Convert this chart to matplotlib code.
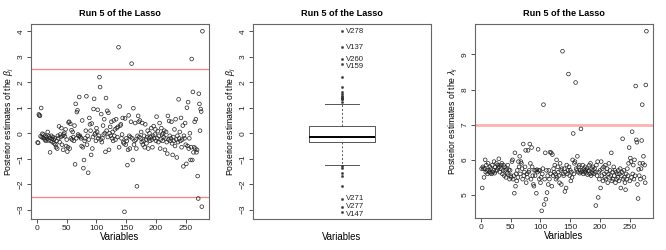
import numpy as np
import matplotlib
matplotlib.use("Agg")
import matplotlib.pyplot as plt

plt.rcParams['font.family'] = ['Liberation Sans', 'DejaVu Sans']
plt.rcParams['mathtext.fontset'] = 'custom'
plt.rcParams['mathtext.rm'] = 'Liberation Sans'
plt.rcParams['mathtext.it'] = 'Liberation Sans:italic'

title = "Run 5 of the Lasso"
xlabel = "Variables"
ylabel_beta = r"Posterior estimates of the $\beta_j$"
ylabel_lambda = r"Posterior estimates of the $\lambda_j$"

beta = [
    -0.36, -0.38, 0.74, 0.70, 0.68, -0.12, 0.99, -0.15, -0.02, -0.18,
    -0.05, -0.20, -0.25, -0.10, -0.30, -0.15, -0.22, 0.05, -0.28, -0.12,
    -0.18, -0.75, -0.30, -0.10, -0.22, -0.35, -0.15, -0.25, -0.40, -0.20,
    -0.45, -0.55, -0.30, -0.60, -0.10, -0.20, 0.27, -0.35, -0.05, -0.15,
    0.20, -0.45, -0.10, -0.65, -0.05, 0.02, -0.12, 0.15, -0.50, -0.25,
    -0.72, -0.55, 0.42, 0.45, -0.60, 0.37, -0.20, 0.12, -0.25, 0.05,
    -0.15, -0.30, 0.30, -1.22, 1.15, -0.20, 0.83, 0.90, -0.05, -0.10,
    1.42, -0.10, -0.15, -0.20, -0.50, 0.50, -0.55, -1.37, -1.05, -0.30,
    -0.20, 0.10, 1.45, -0.45, -0.10, -1.55, -0.25, 0.60, 0.35, 0.10,
    -0.85, 0.38, -0.60, -0.15, 0.95, 1.35, -0.05, 0.00, -0.30, 0.20,
    0.05, 0.92, -0.20, -0.10, 2.20, 1.81, -0.25, 0.75, -0.35, -0.20,
    0.30, -0.05, 0.55, 0.00, -0.73, 1.38, 0.10, 0.88, -0.15, 0.80,
    -0.65, 0.00, 0.25, -0.10, 0.45, -0.20, 0.05, -0.30, 0.50, -0.10,
    0.15, -0.25, 0.55, 0.20, -0.15, 0.25, 3.37, -0.55, 1.05, 0.30,
    0.35, -0.20, -0.05, 0.60, -0.35, -0.40, -3.08, 0.58, -0.45, -0.20,
    -0.30, -1.25, -0.65, 0.70, -0.10, -0.60, -0.15, 0.45, 2.73, -0.20,
    -1.05, 0.98, -0.45, -0.30, 0.40, -0.25, -0.60, -2.08, -0.10, 0.68,
    0.45, -0.15, 0.50, -0.20, 0.05, -0.35, 0.40, -0.45, -0.30, -0.10,
    -0.55, 0.35, -0.25, -0.40, -0.15, 0.10, -0.60, -0.20, 0.00, -0.30,
    -0.15, 0.20, -0.25, -0.55, -0.10, 0.28, -0.20, -0.05, 0.15, -0.30,
    0.65, -0.20, 0.08, -0.35, -0.10, 0.40, -0.60, -0.25, 0.20, -0.05,
    -0.30, 0.00, -0.15, 0.10, -0.65, -0.20, 0.05, -0.35, -0.80, 0.68,
    -0.25, 0.48, -0.10, -0.30, -0.20, 0.45, -0.40, -0.85, -0.15, -0.30,
    0.15, -0.50, 0.55, -0.25, -0.95, -0.10, -0.35, 1.33, -0.20, 0.05,
    -0.30, 0.60, -0.55, -0.25, 0.30, -1.30, -0.10, -0.20, 0.40, -0.45,
    -1.20, 1.00, -0.50, 1.22, -0.60, -0.20, 0.00, -1.05, -0.55, 2.91,
    -1.05, 1.62, -0.75, -0.55, 0.45, -0.60, 0.55, -0.75, -0.65, -1.68,
    -2.56, 1.55, 1.15, 0.10, 0.95, 0.85, -2.88, 4.00,
]

lam = [
    5.75, 5.20, 5.80, 5.75, 5.50, 5.75, 6.00, 5.65, 5.85, 5.70,
    5.60, 5.90, 5.70, 5.65, 5.80, 5.62, 5.75, 5.60, 5.85, 5.65,
    5.70, 5.95, 5.62, 5.80, 5.68, 5.90, 5.72, 5.85, 5.78, 6.03,
    5.80, 5.65, 5.85, 5.75, 5.90, 5.60, 5.70, 5.85, 5.55, 5.80,
    5.70, 5.50, 5.75, 5.62, 5.85, 5.58, 5.72, 5.45, 5.70, 5.55,
    5.50, 5.95, 6.00, 5.45, 5.55, 5.05, 6.20, 5.25, 5.60, 5.40,
    5.70, 5.50, 5.95, 5.80, 6.10, 5.60, 5.95, 5.90, 5.75, 5.45,
    6.45, 5.55, 5.65, 5.80, 6.27, 5.35, 5.60, 5.50, 6.27, 5.65,
    5.70, 6.45, 5.90, 5.45, 6.35, 5.80, 5.55, 5.30, 5.25, 5.70,
    5.55, 5.70, 5.05, 5.72, 5.65, 6.30, 5.70, 5.45, 5.70, 5.35,
    5.50, 4.55, 5.60, 5.75, 7.57, 4.73, 5.45, 6.20, 4.88, 5.70,
    5.07, 5.55, 5.30, 5.70, 5.45, 6.22, 5.60, 6.20, 5.25, 6.15,
    5.55, 5.75, 5.65, 5.85, 5.60, 5.45, 6.00, 5.50, 5.80, 5.65,
    5.55, 5.35, 5.90, 5.70, 5.30, 5.75, 9.09, 5.60, 5.55, 5.75,
    5.10, 5.65, 5.20, 5.85, 5.60, 5.70, 8.44, 5.80, 5.55, 5.70,
    5.40, 5.65, 5.50, 6.00, 6.75, 5.60, 5.90, 5.95, 8.20, 5.75,
    5.70, 6.10, 5.65, 5.80, 5.85, 5.62, 5.70, 6.88, 5.65, 5.70,
    5.85, 5.60, 5.75, 5.65, 5.80, 5.70, 5.62, 5.75, 5.58, 5.68,
    5.70, 5.85, 5.60, 5.90, 5.55, 5.75, 5.62, 5.80, 5.70, 5.60,
    5.75, 5.65, 4.70, 5.85, 5.55, 5.95, 4.93, 5.65, 5.45, 5.70,
    5.20, 5.95, 5.55, 5.75, 5.40, 5.80, 5.60, 5.50, 5.85, 5.45,
    5.65, 5.75, 5.35, 5.60, 5.90, 5.50, 5.70, 5.55, 6.20, 5.40,
    5.65, 5.45, 5.80, 5.55, 5.70, 5.35, 5.65, 5.45, 5.60, 5.50,
    5.70, 5.40, 5.60, 5.75, 5.20, 5.55, 5.65, 6.60, 5.45, 5.70,
    5.50, 5.35, 5.15, 5.60, 5.45, 5.75, 5.55, 5.90, 6.35, 5.40,
    6.05, 5.95, 5.50, 6.80, 5.60, 5.85, 5.45, 6.00, 5.55, 8.10,
    6.57, 6.50, 5.30, 4.90, 5.73, 5.55, 5.90, 5.45, 5.75, 6.55,
    7.57, 5.90, 6.10, 5.50, 5.85, 5.35, 8.13, 9.66,
]

beta_thresholds = [-2.5, 2.5]
lambda_threshold = 7.0

beta = np.array(beta)
lam = np.array(lam)
idx = np.arange(1, len(beta) + 1)

W, H = 666, 250
fig = plt.figure(figsize=(W / 100, H / 100), dpi=100)

def axrect(x0, y0, x1, y1):
    return [x0 / W, 1 - y1 / H, (x1 - x0) / W, (y1 - y0) / H]

ax1 = fig.add_axes(axrect(31, 24, 209, 219))
ax2 = fig.add_axes(axrect(253, 24, 431, 219))
ax3 = fig.add_axes(axrect(475, 24, 653, 218))

frame_col = '#666666'
tick_fs = 6.0
xlab_fs = 6.9
ylab_fs = 6.2
title_fs = 6.6

def style(ax):
    for s in ax.spines.values():
        s.set_color(frame_col)
        s.set_linewidth(0.8)
    ax.tick_params(direction='out', length=3, width=0.6, color='#333333',
                   labelsize=tick_fs, pad=1.5, labelcolor='#222222')
    for lbl in ax.get_yticklabels():
        lbl.set_rotation(90)
        lbl.set_va('center')
    ax.set_title(title, fontsize=title_fs, fontweight='bold', pad=6)

def labels(ax, ylab):
    ax.set_xlabel(xlabel, fontsize=xlab_fs)
    ax.set_ylabel(ylab, fontsize=ylab_fs)
    ax.xaxis.set_label_coords(0.5, -0.068)
    ax.yaxis.set_label_coords(-0.085, 0.5)

marker_kw = dict(marker='o', s=7, facecolors='none', edgecolors='#222222', linewidths=0.5)

# Left: scatter of beta
ax1.scatter(idx, beta, **marker_kw, zorder=3)
for t in beta_thresholds:
    ax1.axhline(t, color='#ff8080', lw=0.9, zorder=2)
ax1.margins(x=0.04, y=0.04)
ax1.set_xticks([0, 50, 100, 150, 200, 250])
ax1.set_yticks(range(-3, 5))
style(ax1)
labels(ax1, ylabel_beta)

# Middle: boxplot of beta
ax2.boxplot(beta, positions=[1], widths=0.375, whis=1.5, patch_artist=False,
            medianprops=dict(color='black', lw=1.4),
            boxprops=dict(color='#555555', lw=0.7),
            whiskerprops=dict(color='#555555', lw=0.7, ls=(0, (2, 2))),
            capprops=dict(color='#555555', lw=0.7),
            capwidths=0.19,
            flierprops=dict(marker='o', markersize=1.6, markerfacecolor='#333333',
                            markeredgecolor='#333333', markeredgewidth=0.3))
ax2.set_xlim(0.5, 1.5)
ax2.set_ylim(ax1.get_ylim())
ax2.set_xticks([])
ax2.set_yticks(range(-3, 5))
style(ax2)
order = np.argsort(beta)
# labels for extreme variables, spaced so they do not collide
top = list(order[-4:][::-1])
bottom = list(order[:3])
min_gap = 0.30
prev = None
for k in top:
    y = beta[k]
    if prev is not None and prev - y < min_gap:
        y = prev - min_gap
    ax2.text(1.02, y, f"V{idx[k]}", fontsize=5.6, va='center', ha='left', color='#222222')
    prev = y
prev = None
for k in sorted(bottom, key=lambda j: -beta[j]):
    y = beta[k]
    if prev is not None and prev - y < min_gap:
        y = prev - min_gap
    ax2.text(1.02, y, f"V{idx[k]}", fontsize=5.6, va='center', ha='left', color='#222222')
    prev = y
labels(ax2, ylabel_beta)

# Right: scatter of lambda
ax3.scatter(idx, lam, **marker_kw, zorder=3)
ax3.axhline(lambda_threshold, color='#ffb0b0', lw=2.0, zorder=2)
ax3.margins(x=0.04, y=0.04)
ax3.set_xticks([0, 50, 100, 150, 200, 250])
ax3.set_yticks([5, 6, 7, 8, 9])
style(ax3)
labels(ax3, ylabel_lambda)

fig.savefig("out.png", dpi=100)
